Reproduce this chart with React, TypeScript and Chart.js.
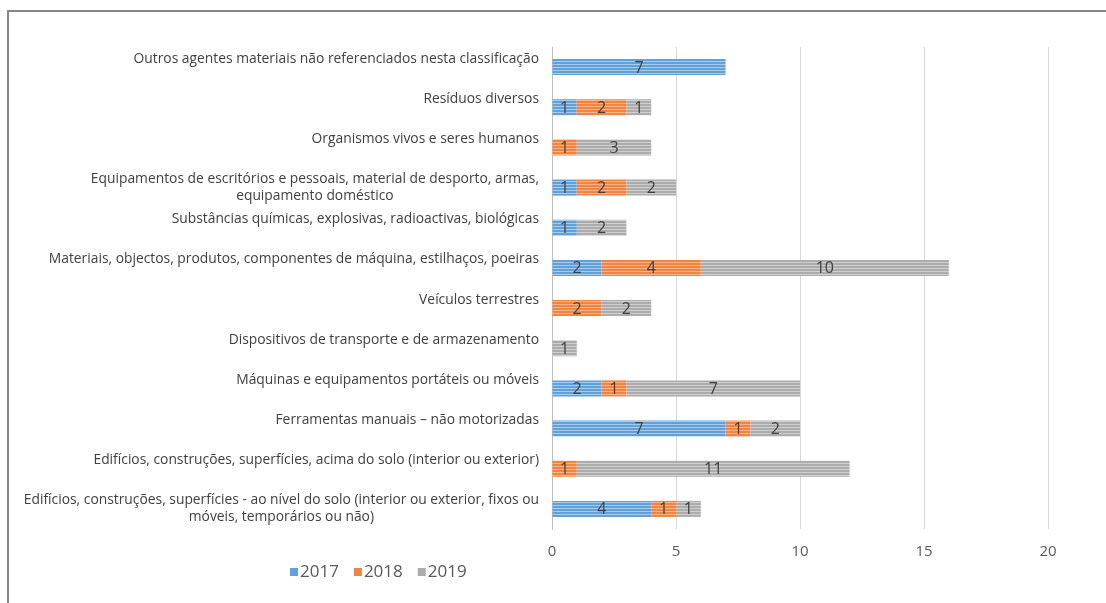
import React, { useEffect, useRef } from "react";
import { Chart, registerables } from "chart.js";

Chart.register(...registerables);

const categories: string[][] = [
  ["Outros agentes materiais não referenciados nesta classificação"],
  ["Resíduos diversos"],
  ["Organismos vivos e seres humanos"],
  ["Equipamentos de escritórios e pessoais, material de desporto, armas,", "equipamento doméstico"],
  ["Substâncias químicas, explosivas, radioactivas, biológicas"],
  ["Materiais, objectos, produtos, componentes de máquina, estilhaços, poeiras"],
  ["Veículos terrestres"],
  ["Dispositivos de transporte e de armazenamento"],
  ["Máquinas e equipamentos portáteis ou móveis"],
  ["Ferramentas manuais – não motorizadas"],
  ["Edifícios, construções, superfícies, acima do solo (interior ou exterior)"],
  ["Edifícios, construções, superfícies - ao nível do solo (interior ou exterior, fixos ou", "móveis, temporários ou não)"],
];

const seriesNames = ["2017", "2018", "2019"];
const values2017 = [7, 1, 0, 1, 1, 2, 0, 0, 2, 7, 0, 4];
const values2018 = [0, 2, 1, 2, 0, 4, 2, 0, 1, 1, 1, 1];
const values2019 = [0, 1, 3, 2, 2, 10, 2, 1, 7, 2, 11, 1];
const xTicks = [0, 5, 10, 15, 20];

const baseColors = ["#62a0d8", "#ef8540", "#acacac"];
const lightColors = ["#a9cbec", "#f6b48a", "#cfcfcf"];

const FONT = "'Open Sans', Lato, sans-serif";

function makePattern(base: string, light: string): CanvasPattern | string {
  const c = document.createElement("canvas");
  c.width = 4;
  c.height = 3;
  const g = c.getContext("2d");
  if (!g) return base;
  g.fillStyle = base;
  g.fillRect(0, 0, 4, 3);
  g.fillStyle = light;
  g.fillRect(0, 1, 4, 1);
  const p = g.createPattern(c, "repeat");
  return p || base;
}

export default function App() {
  const ref = useRef<HTMLCanvasElement>(null);

  useEffect(() => {
    document.body.style.overflow = "hidden";
    const canvas = ref.current;
    if (!canvas) return;
    const dataSets = [values2017, values2018, values2019];

    const labelPlugin = {
      id: "customLabels",
      afterDatasetsDraw(chart: any) {
        const ctx = chart.ctx as CanvasRenderingContext2D;
        const yScale = chart.scales.y;
        ctx.save();
        // category labels: size the font so the first label spans ~406px like the reference
        ctx.font = `100px ${FONT}`;
        const refW = ctx.measureText(categories[0][0]).width;
        const size = Math.min(14, (100 * 406) / refW);
        ctx.font = `${size}px ${FONT}`;
        ctx.fillStyle = "#404040";
        ctx.textBaseline = "middle";
        const rightEdge = chart.chartArea.left - 13;
        categories.forEach((lines, i) => {
          const cy = yScale.getPixelForValue(i);
          const widths = lines.map((l) => ctx.measureText(l).width);
          const blockW = Math.max(...widths);
          const cx = rightEdge - blockW / 2;
          ctx.textAlign = "center";
          lines.forEach((l, j) => {
            ctx.fillText(l, cx, cy - 8.5 + j * 17);
          });
        });
        // data labels
        ctx.font = `16px ${FONT}`;
        ctx.fillStyle = "#404040";
        ctx.textAlign = "center";
        chart.data.datasets.forEach((ds: any, di: number) => {
          const meta = chart.getDatasetMeta(di);
          meta.data.forEach((el: any, i: number) => {
            const v = ds.data[i];
            if (!v) return;
            const x = (el.x + el.base) / 2;
            ctx.fillText(String(v), x, el.y + 1);
          });
        });
        // legend
        ctx.font = `17px ${FONT}`;
        ctx.textAlign = "left";
        let lx = 290;
        const ly = chart.chartArea.bottom + 43;
        seriesNames.forEach((name, i) => {
          ctx.fillStyle = baseColors[i];
          ctx.fillRect(lx, ly - 4, 8, 8);
          ctx.fillStyle = "#595959";
          ctx.fillText(name, lx + 10, ly);
          lx += 10 + ctx.measureText(name).width + 15;
        });
        ctx.restore();
      },
    };

    const chart = new Chart(canvas, {
      type: "bar",
      data: {
        labels: categories.map((c) => c.join(" ")),
        datasets: dataSets.map((d, i) => ({
          label: seriesNames[i],
          data: d,
          backgroundColor: makePattern(baseColors[i], lightColors[i]) as any,
          borderWidth: 0,
          barPercentage: 0.4,
          categoryPercentage: 1,
        })),
      },
      options: {
        indexAxis: "y",
        animation: false,
        responsive: false,
        maintainAspectRatio: false,
        layout: { padding: { left: 544, right: 58, top: 47, bottom: 28 } },
        plugins: {
          legend: { display: false },
          tooltip: { enabled: false },
        },
        scales: {
          x: {
            stacked: true,
            min: 0,
            max: 20,
            afterBuildTicks: (axis: any) => {
              axis.ticks = xTicks.map((v) => ({ value: v }));
            },
            ticks: {
              color: "#595959",
              font: { size: 15, family: FONT },
              padding: 14,
            },
            grid: { color: "#d9d9d9", drawTicks: false, lineWidth: 1 },
            border: { display: false },
          },
          y: {
            stacked: true,
            ticks: { display: false },
            grid: { display: false },
            border: { display: true, color: "#bfbfbf", width: 1 },
          },
        },
      },
      plugins: [labelPlugin],
    });
    return () => chart.destroy();
  }, []);

  return (
    <div style={{ position: "absolute", left: 0, top: 0, width: 1106, height: 603, overflow: "hidden" }}>
      <div
        style={{
          position: "absolute",
          left: 7,
          top: 10,
          width: 1099,
          height: 593,
          borderTop: "2px solid #868686",
          borderLeft: "2px solid #868686",
          boxSizing: "border-box",
        }}
      />
      <canvas ref={ref} width={1106} height={603} style={{ position: "absolute", left: 0, top: 0 }} />
    </div>
  );
}
